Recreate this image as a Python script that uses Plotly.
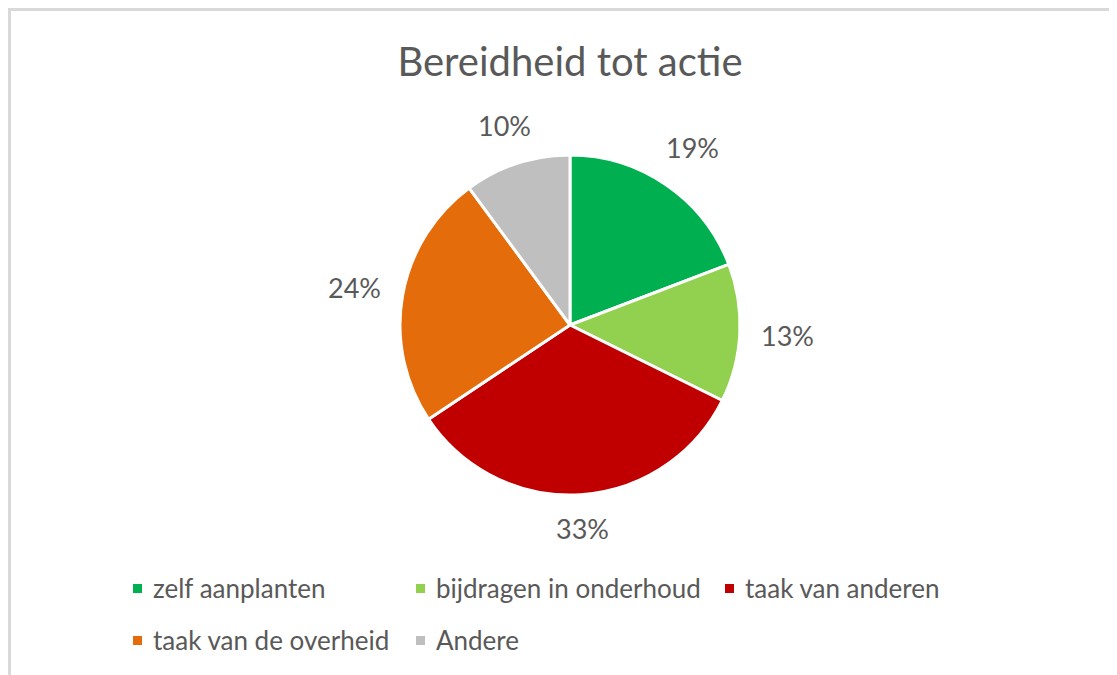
import math
import plotly.graph_objects as go

categories = ["zelf aanplanten", "bijdragen in onderhoud", "taak van anderen",
              "taak van de overheid", "Andere"]
values = [19, 13, 33, 24, 10]
colors = ["#00B050", "#92D050", "#C00000", "#E46C0A", "#BFBFBF"]
title_text = "Bereidheid tot actie"

W, H = 1117, 675
FONT = "Lato, Carlito, 'Open Sans', sans-serif"
GRAY = "#595959"

# pie geometry (pixels, figure coords)
CX, CY, R = 562, 317, 170
GAP, HALF_W, HALF_H = 20, 27, 12  # label box offset from the pie edge

fig = go.Figure()
fig.add_trace(go.Pie(
    labels=categories,
    values=values,
    sort=False,
    direction="clockwise",
    rotation=0,
    marker=dict(colors=colors, line=dict(color="white", width=3)),
    textinfo="none",
    domain=dict(x=[(CX - R) / W, (CX + R) / W], y=[1 - (CY + R) / H, 1 - (CY - R) / H]),
    showlegend=False,
    hoverinfo="label+percent",
))

shapes = []
annotations = []

# data labels placed outside, Excel-like (derived from values)
total = sum(values)
cum = 0.0
for v in values:
    mid = (cum + v / 2) / total * 2 * math.pi
    cum += v
    ux, uy = math.sin(mid), -math.cos(mid)
    d = R + GAP + abs(ux) * HALF_W + abs(uy) * HALF_H
    px = CX + d * ux
    py = CY + d * uy
    annotations.append(dict(text=f"{round(100 * v / total)}%", xref="paper", yref="paper",
                            x=px / W, y=1 - py / H, xanchor="center", yanchor="middle",
                            showarrow=False,
                            font=dict(family=FONT, size=27, color=GRAY)))

# custom legend (two rows, Excel-like)
leg_x = [125, 408, 717, 125, 408]
leg_y = [580, 580, 580, 632, 632]
for name, col, lx, ly in zip(categories, colors, leg_x, leg_y):
    shapes.append(dict(type="rect", xref="paper", yref="paper",
                       x0=lx / W, x1=(lx + 9) / W,
                       y0=1 - (ly + 5) / H, y1=1 - (ly - 4) / H,
                       fillcolor=col, line=dict(width=0)))
    annotations.append(dict(text=name, xref="paper", yref="paper",
                            x=(lx + 18) / W, y=1 - ly / H,
                            xanchor="left", yanchor="middle", showarrow=False,
                            font=dict(family=FONT, size=26, color=GRAY)))

# chart border
shapes.append(dict(type="rect", xref="paper", yref="paper",
                   x0=1.5 / W, x1=1 - 1.5 / W, y0=1.5 / H, y1=1 - 1.5 / H,
                   line=dict(color="#D9D9D9", width=3), fillcolor="rgba(0,0,0,0)",
                   layer="above"))

fig.update_layout(
    width=W, height=H,
    margin=dict(l=0, r=0, t=0, b=0),
    paper_bgcolor="white", plot_bgcolor="white",
    title=dict(text=title_text, x=CX / W, y=1 - 54 / H,
               xanchor="center", yanchor="middle",
               font=dict(family=FONT, size=40, color=GRAY)),
    shapes=shapes,
    annotations=annotations,
)

fig.write_html("out.html")
